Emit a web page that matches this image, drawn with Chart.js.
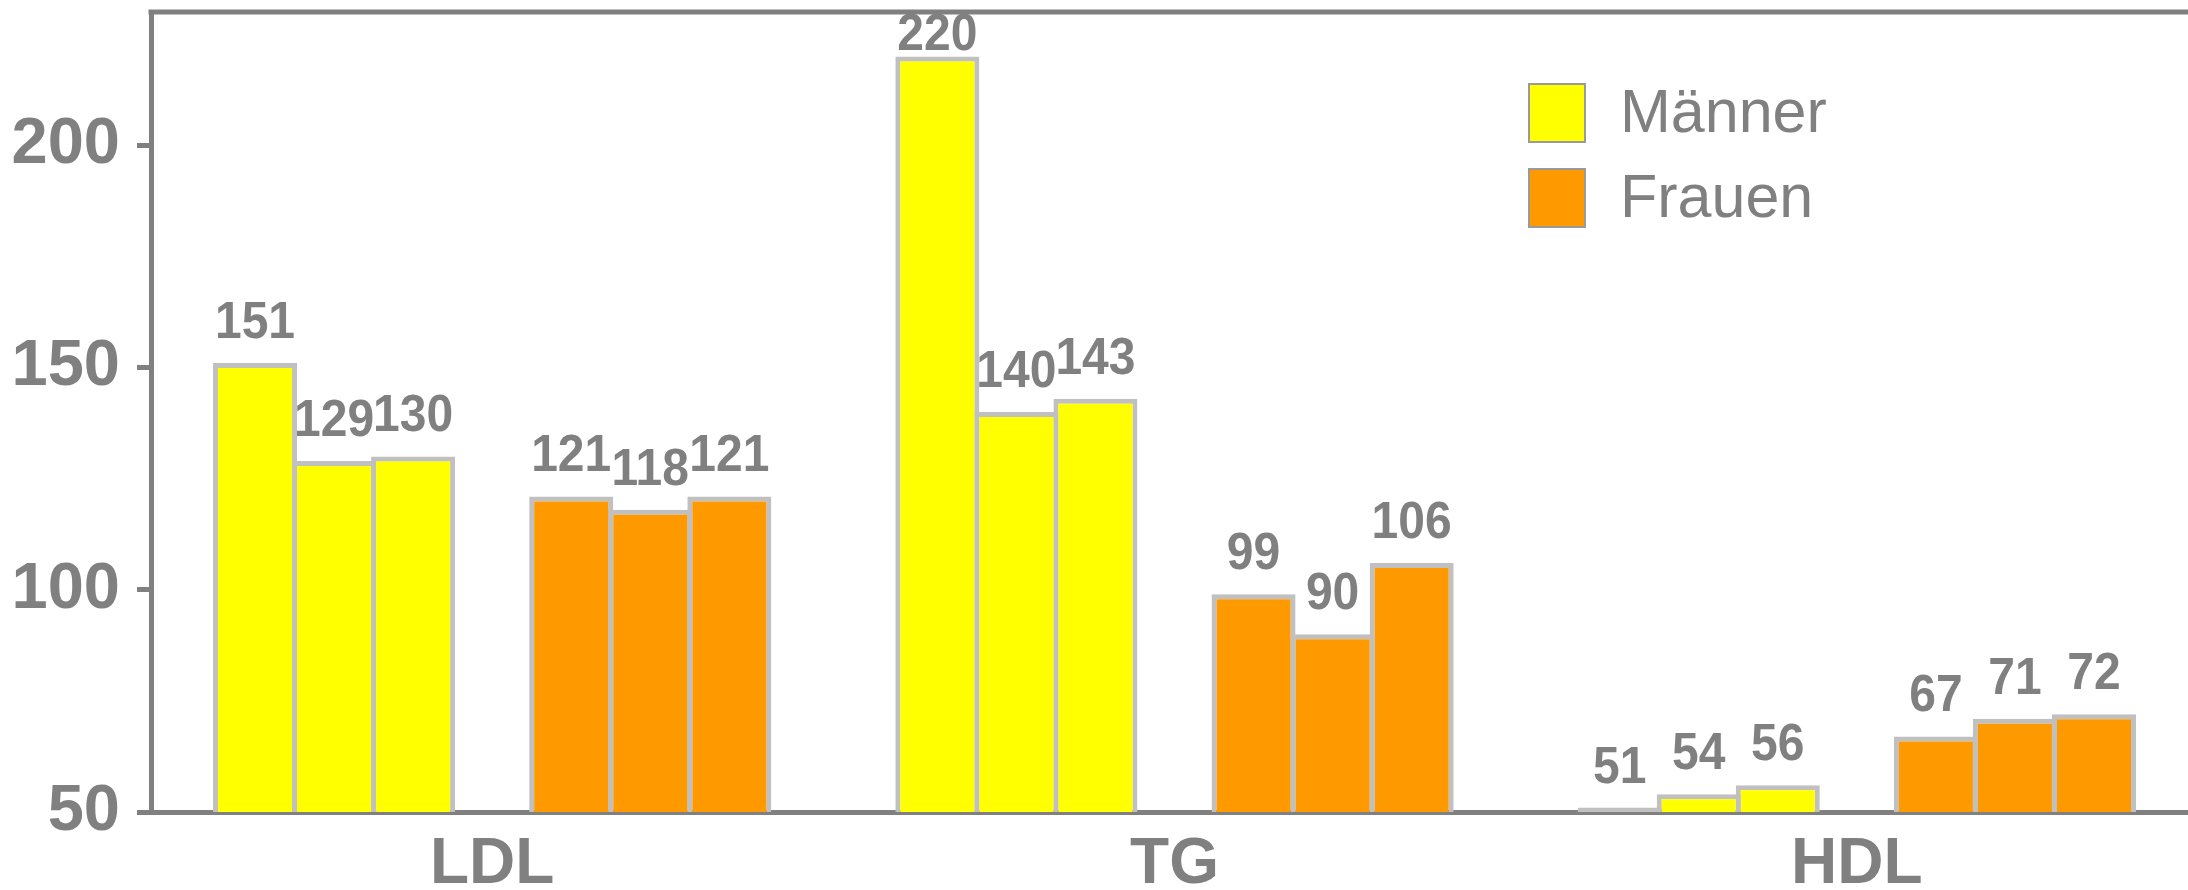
<!DOCTYPE html>
<html lang="de">
<head>
<meta charset="utf-8">
<title>LDL, TG, HDL – Männer und Frauen</title>
<script src="https://cdn.jsdelivr.net/npm/chart.js@4/dist/chart.umd.min.js"></script>
<style>
  html, body { margin: 0; padding: 0; background: #ffffff; overflow: hidden; }
  #wrap { position: relative; width: 2198px; height: 890px; }
  #legend { position: absolute; left: 1528px; top: 83px; font-family: "Liberation Sans", Arial, sans-serif; color: #808080; }
  .item { position: absolute; left: 0; height: 60px; white-space: nowrap; }
  .swatch { position: absolute; left: 0; top: 0; width: 54px; height: 56px; border: 2px solid #9a9a9a; }
  .text { position: absolute; left: 92px; top: -7px; font-size: 61px; line-height: 70px; }
</style>
</head>
<body>
<div id="wrap">
  <canvas id="chart"></canvas>
  <div id="legend"></div>
</div>
<script>
// Lipid values (mg/dl) per category
const categories = ['LDL', 'TG', 'HDL'];
const maennerA = [151, 220, 51];
const maennerB = [129, 140, 54];
const maennerC = [130, 143, 56];
const frauenA = [121, 99, 67];
const frauenB = [118, 90, 71];
const frauenC = [121, 106, 72];
const yTicks = [50, 100, 150, 200];
const legendLabels = ['Männer', 'Frauen'];

const GRAY = '#808080';
const YELLOW = '#ffff00';
const ORANGE = '#ff9900';
const FONT = '"Liberation Sans", Arial, sans-serif';

function barSet(label, data, color, group) {
  return {
    label, data, group,
    backgroundColor: color,
    borderColor: '#c0c0c0',
    borderWidth: 5,
    showValues: true
  };
}

const datasets = [
  barSet('Männer 1', maennerA, YELLOW, 0),
  barSet('Männer 2', maennerB, YELLOW, 0),
  barSet('Männer 3', maennerC, YELLOW, 0),
  // empty slot separating the two groups
  { label: '', data: categories.map(() => null), backgroundColor: 'rgba(0,0,0,0)', borderWidth: 0, showValues: false },
  barSet('Frauen 1', frauenA, ORANGE, 1),
  barSet('Frauen 2', frauenB, ORANGE, 1),
  barSet('Frauen 3', frauenC, ORANGE, 1)
];

// value labels above the bars (slightly tall digits), kept below the top frame line
const valueLabels = {
  id: 'valueLabels',
  afterDatasetsDraw(chart) {
    const ctx = chart.ctx;
    const area = chart.chartArea;
    ctx.save();
    ctx.fillStyle = GRAY;
    ctx.font = 'bold 48px ' + FONT;
    ctx.textAlign = 'center';
    ctx.textBaseline = 'alphabetic';
    chart.data.datasets.forEach((ds, i) => {
      if (!ds.showValues) return;
      chart.getDatasetMeta(i).data.forEach((bar, j) => {
        const v = ds.data[j];
        if (v == null) return;
        const y = Math.max(bar.y - 25, area.top + 38);
        ctx.save();
        ctx.translate(bar.x, y);
        ctx.scale(1, 1.08);
        ctx.fillText(String(v), 0, 0);
        ctx.restore();
      });
    });
    ctx.restore();
  }
};

// top frame line of the plot area
const topFrame = {
  id: 'topFrame',
  afterDraw(chart) {
    const ctx = chart.ctx;
    const a = chart.chartArea;
    ctx.save();
    ctx.strokeStyle = GRAY;
    ctx.lineWidth = 5;
    ctx.beginPath();
    ctx.moveTo(a.left - 2.5, a.top);
    ctx.lineTo(a.right, a.top);
    ctx.stroke();
    ctx.restore();
  }
};

const chart = new Chart(document.getElementById('chart'), {
  type: 'bar',
  data: { labels: categories, datasets },
  plugins: [valueLabels, topFrame],
  options: {
    responsive: true,
    maintainAspectRatio: false,
    animation: false,
    layout: { padding: { top: 12, left: 0, right: 0, bottom: 0 } },
    datasets: {
      bar: { categoryPercentage: 0.811, barPercentage: 1.063 }
    },
    plugins: {
      legend: { display: false },
      tooltip: { enabled: false }
    },
    scales: {
      x: {
        grid: { display: true, drawOnChartArea: false, drawTicks: false, color: GRAY, lineWidth: 5 },
        border: { display: true, color: GRAY, width: 5 },
        ticks: {
          color: GRAY,
          font: { family: FONT, size: 64, weight: 'bold' },
          padding: 15,
          maxRotation: 0,
          autoSkip: false
        },
        afterFit(scale) { scale.height = 78; scale.paddingLeft = 0; scale.paddingRight = 0; }
      },
      y: {
        min: 50,
        max: 230,
        afterBuildTicks(scale) { scale.ticks = yTicks.map(v => ({ value: v })); },
        grid: { drawOnChartArea: false, drawTicks: true, tickLength: 14, tickWidth: 5, tickColor: GRAY, color: GRAY, lineWidth: 5 },
        border: { display: true, color: GRAY, width: 5 },
        ticks: {
          color: GRAY,
          font: { family: FONT, size: 65, weight: 'bold' },
          padding: 17
        },
        afterFit(scale) { scale.width = 151; scale.paddingTop = 0; scale.paddingBottom = 0; }
      }
    }
  }
});

// legend: one entry per group, colours taken from the datasets
const legendEl = document.getElementById('legend');
legendLabels.forEach((name, g) => {
  const ds = datasets.find(d => d.group === g);
  const item = document.createElement('div');
  item.className = 'item';
  item.style.top = (g * 85) + 'px';
  const sw = document.createElement('div');
  sw.className = 'swatch';
  sw.style.background = ds.backgroundColor;
  const tx = document.createElement('div');
  tx.className = 'text';
  tx.textContent = name;
  item.appendChild(sw);
  item.appendChild(tx);
  legendEl.appendChild(item);
});
</script>
</body>
</html>
